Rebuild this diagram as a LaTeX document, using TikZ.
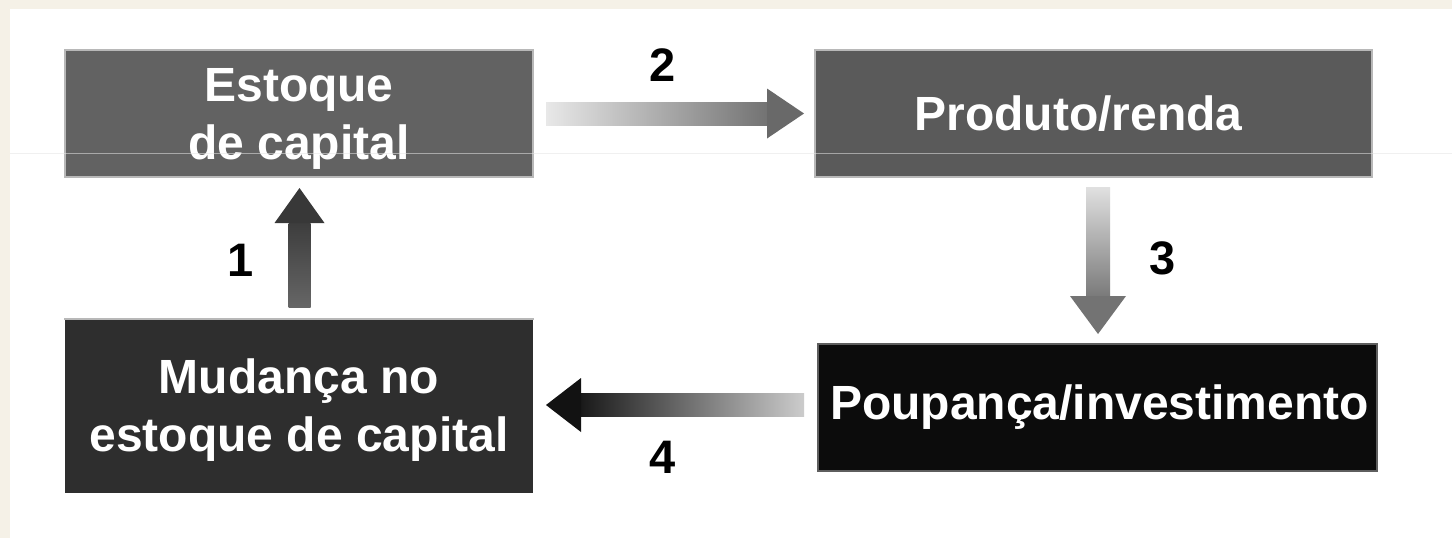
\documentclass[tikz,border=0pt]{standalone}
\usepackage{fontspec}
\setmainfont{Liberation Sans}
\usetikzlibrary{calc}

\definecolor{paper}{HTML}{F5F1E7}
\definecolor{estfill}{HTML}{626262}
\definecolor{prodfill}{HTML}{5A5A5A}
\definecolor{mudfill}{HTML}{2E2E2E}
\definecolor{poupfill}{HTML}{0C0C0C}
\definecolor{edgelight}{HTML}{B8B8B8}
\definecolor{edgedark}{HTML}{5E5E5E}
\definecolor{rule}{HTML}{E4E4E4}

\tikzset{
  box/.style={rectangle, inner sep=0pt, line width=1pt},
  boxtext/.style={inner sep=0pt, align=center, text=white,
    font=\bfseries\fontsize{24}{29}\selectfont},
  num/.style={inner sep=0pt, text=black, font=\bfseries\fontsize{23.5}{28}\selectfont},
}

\begin{document}
\begin{tikzpicture}[x=0.5pt,y=-0.5pt]
  % page
  \fill[paper] (0,0) rectangle (1452,538);
  \fill[white] (10,9) rectangle (1452,538);
  \useasboundingbox (0,0) rectangle (1452,538);

  % boxes
  \node[box, fill=estfill, draw=edgelight, minimum width=234pt, minimum height=63.5pt]
    (est) at (299,113.5) {};
  \node[boxtext] (estT) at ($(est)+(0,5)$) {Estoque\\de capital};

  \node[box, fill=prodfill, draw=edgelight, minimum width=278.5pt, minimum height=63.5pt]
    (prod) at (1093.5,113.5) {};
  \node[boxtext] (prodT) at ($(prod)+(-15,0)$) {Produto/renda};

  \node[box, fill=mudfill, minimum width=234pt, minimum height=86.5pt]
    (mud) at (299,406.5) {};
  \draw[edgelight, line width=1pt] (mud.north west) -- (mud.north east);
  \node[boxtext] (mudT) at ($(mud)+(0,4)$) {Mudança no\\estoque de capital};

  \node[box, fill=poupfill, draw=edgedark, minimum width=279.5pt, minimum height=63.5pt]
    (poup) at (1097.5,407.5) {};
  \node[boxtext] (poupT) at ($(poup)+(2,0)$) {Poupança/investimento};

  % arrow 1: change in stock -> stock
  \coordinate (a1s) at ($(mud.north)+(0.5,-12)$);
  \coordinate (a1e) at ($(est.south)+(0.5,10)$);
  \shade[top color=black!76, bottom color=black!60]
    ($(a1s)+(-11,0)$) rectangle ($(a1e)+(11,35)$);
  \fill[black!78] ($(a1e)+(-25,35)$) -- (a1e) -- ($(a1e)+(25,35)$) -- cycle;

  % arrow 2: stock -> output
  \coordinate (a2s) at ($(est.east)+(12,0)$);
  \coordinate (a2e) at ($(prod.west)+(-10,0)$);
  \shade[left color=black!9, right color=black!55]
    ($(a2s)+(0,-11.5)$) rectangle ($(a2e)+(-37,11.5)$);
  \fill[black!59] ($(a2e)+(-37,-25)$) -- (a2e) -- ($(a2e)+(-37,25)$) -- cycle;

  % arrow 3: output -> saving
  \coordinate (a3s) at ($(prod.south)+(4.5,9)$);
  \coordinate (a3e) at ($(poup.north)+(0.5,-9)$);
  \shade[top color=black!12, bottom color=black!52]
    ($(a3s)+(-12,0)$) rectangle ($(a3e)+(12,-38)$);
  \fill[black!55] ($(a3e)+(-28,-38)$) -- (a3e) -- ($(a3e)+(28,-38)$) -- cycle;

  % arrow 4: saving -> change in stock
  \coordinate (a4s) at ($(poup.west)+(-13,-2.5)$);
  \coordinate (a4e) at ($(mud.east)+(12,-1.5)$);
  \shade[left color=black!90, right color=black!20]
    ($(a4e)+(35,-11.5)$) rectangle ($(a4s)+(0,11.5)$);
  \fill[black!93] ($(a4e)+(35,-27)$) -- (a4e) -- ($(a4e)+(35,27)$) -- cycle;

  % step numbers
  \node[num] (n1) at (241,260) {1};
  \node[num] (n2) at (663,65) {2};
  \node[num] (n3) at (1163,258) {3};
  \node[num] (n4) at (663,457) {4};

  % faint scan line across the sheet
  \draw[rule, line width=0.5pt, opacity=0.55] (10,153) -- (1452,153);
\end{tikzpicture}
\end{document}
